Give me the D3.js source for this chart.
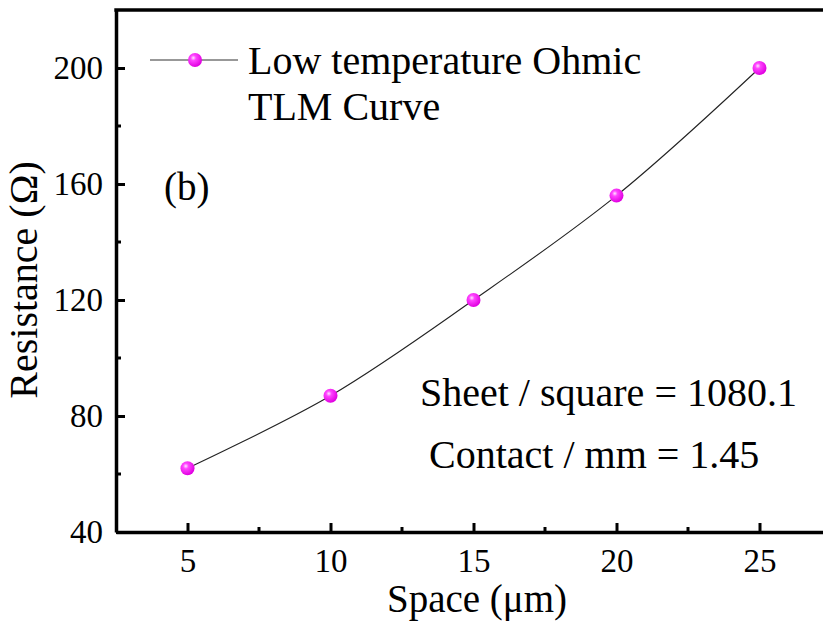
<!DOCTYPE html>
<html>
<head>
<meta charset="utf-8">
<script src="https://cdn.jsdelivr.net/npm/d3@7"></script>
<style>
  body { margin: 0; background: #fff; }
  text { font-family: "Liberation Serif", "Times New Roman", serif; fill: #000; }
</style>
</head>
<body>
<svg id="grafico"></svg>
<script>
// data
const espacos = [5, 10, 15, 20, 25];
const resistencias = [62, 87, 120, 156, 200];
const ticksX = [5, 10, 15, 20, 25];
const ticksY = [40, 80, 120, 160, 200];
const menoresX = [7.5, 12.5, 17.5, 22.5];
const menoresY = [60, 100, 140, 180];
const legenda = ['Low temperature Ohmic', 'TLM Curve'];
const anotacoes = ['Sheet / square = 1080.1', 'Contact / mm = 1.45'];

const largura = 823, altura = 623;
const svg = d3.select('#grafico').attr('width', largura).attr('height', altura);

const esq = 116, topo = 10, baixo = 532;
const fnX = d3.scaleLinear().domain([2.5, 27.5]).range([esq, esq + 715]);
const fnY = d3.scaleLinear().domain([40, 220]).range([baixo, topo]);

const defs = svg.append('defs');
const grad = defs.append('radialGradient').attr('id', 'esfera')
  .attr('cx', '0.38').attr('cy', '0.35').attr('r', '0.65');
grad.append('stop').attr('offset', '0').attr('stop-color', '#ffe6ff');
grad.append('stop').attr('offset', '0.3').attr('stop-color', '#ff44ff');
grad.append('stop').attr('offset', '1').attr('stop-color', '#e000e0');

// curve
const linha = d3.line().x((d, i) => fnX(espacos[i])).y(d => fnY(d)).curve(d3.curveCatmullRom);
svg.append('path').datum(resistencias)
  .attr('d', linha).attr('fill', 'none').attr('stroke', '#222').attr('stroke-width', 1.1);

svg.selectAll('.ponto').data(resistencias).enter().append('circle')
  .classed('ponto', true)
  .attr('cx', (d, i) => fnX(espacos[i]))
  .attr('cy', d => fnY(d))
  .attr('r', 7)
  .attr('fill', 'url(#esfera)');

// axes
const eixoX = d3.axisBottom(fnX).tickValues(ticksX).tickSizeInner(-9).tickSizeOuter(0).tickPadding(17);
const gx = svg.append('g').attr('transform', 'translate(0,' + baixo + ')').call(eixoX);
gx.attr('font-family', null);
gx.selectAll('.tick line').attr('stroke-width', 3);
gx.selectAll('text').attr('font-size', 33).attr('fill', '#000');
gx.select('.domain').attr('stroke-width', 3.5);
gx.selectAll('.menor').data(menoresX).enter().append('line').classed('menor', true)
  .attr('x1', d => fnX(d)).attr('x2', d => fnX(d)).attr('y1', 0).attr('y2', -5)
  .attr('stroke', '#000').attr('stroke-width', 3);

const eixoY = d3.axisLeft(fnY).tickValues(ticksY).tickSizeInner(-9).tickSizeOuter(0).tickPadding(13);
const gy = svg.append('g').attr('transform', 'translate(' + esq + ',0)').call(eixoY);
gy.attr('font-family', null);
gy.selectAll('.tick line').attr('stroke-width', 3);
gy.selectAll('text').attr('font-size', 33).attr('fill', '#000');
gy.select('.domain').attr('stroke-width', 3.5);
gy.selectAll('.menor').data(menoresY).enter().append('line').classed('menor', true)
  .attr('y1', d => fnY(d)).attr('y2', d => fnY(d)).attr('x1', 0).attr('x2', 5)
  .attr('stroke', '#000').attr('stroke-width', 3);

// top frame
svg.append('line').attr('x1', esq - 1.7).attr('x2', largura).attr('y1', topo).attr('y2', topo)
  .attr('stroke', '#000').attr('stroke-width', 3.5);

// axis titles
svg.append('text').attr('x', 477).attr('y', 612).attr('text-anchor', 'middle')
  .attr('font-size', 39).text('Space (\u03bcm)');
svg.append('text').attr('transform', 'translate(37,280) rotate(-90)').attr('text-anchor', 'middle')
  .attr('font-size', 40).text('Resistance (\u03a9)');

// legend
svg.append('line').attr('x1', 150).attr('x2', 238).attr('y1', 60).attr('y2', 60)
  .attr('stroke', '#333').attr('stroke-width', 1.1);
svg.append('circle').attr('cx', 195).attr('cy', 60).attr('r', 7).attr('fill', 'url(#esfera)');
svg.selectAll('.leg').data(legenda).enter().append('text').classed('leg', true)
  .attr('x', 248).attr('y', (d, i) => 74 + i * 46).attr('font-size', 40).text(d => d);

svg.append('text').attr('x', 164).attr('y', 200).attr('font-size', 39).text('(b)');

svg.selectAll('.anot').data(anotacoes).enter().append('text').classed('anot', true)
  .attr('x', (d, i) => i === 0 ? 420 : 429).attr('y', (d, i) => 406 + i * 62)
  .attr('font-size', 40).text(d => d);
</script>
</body>
</html>
